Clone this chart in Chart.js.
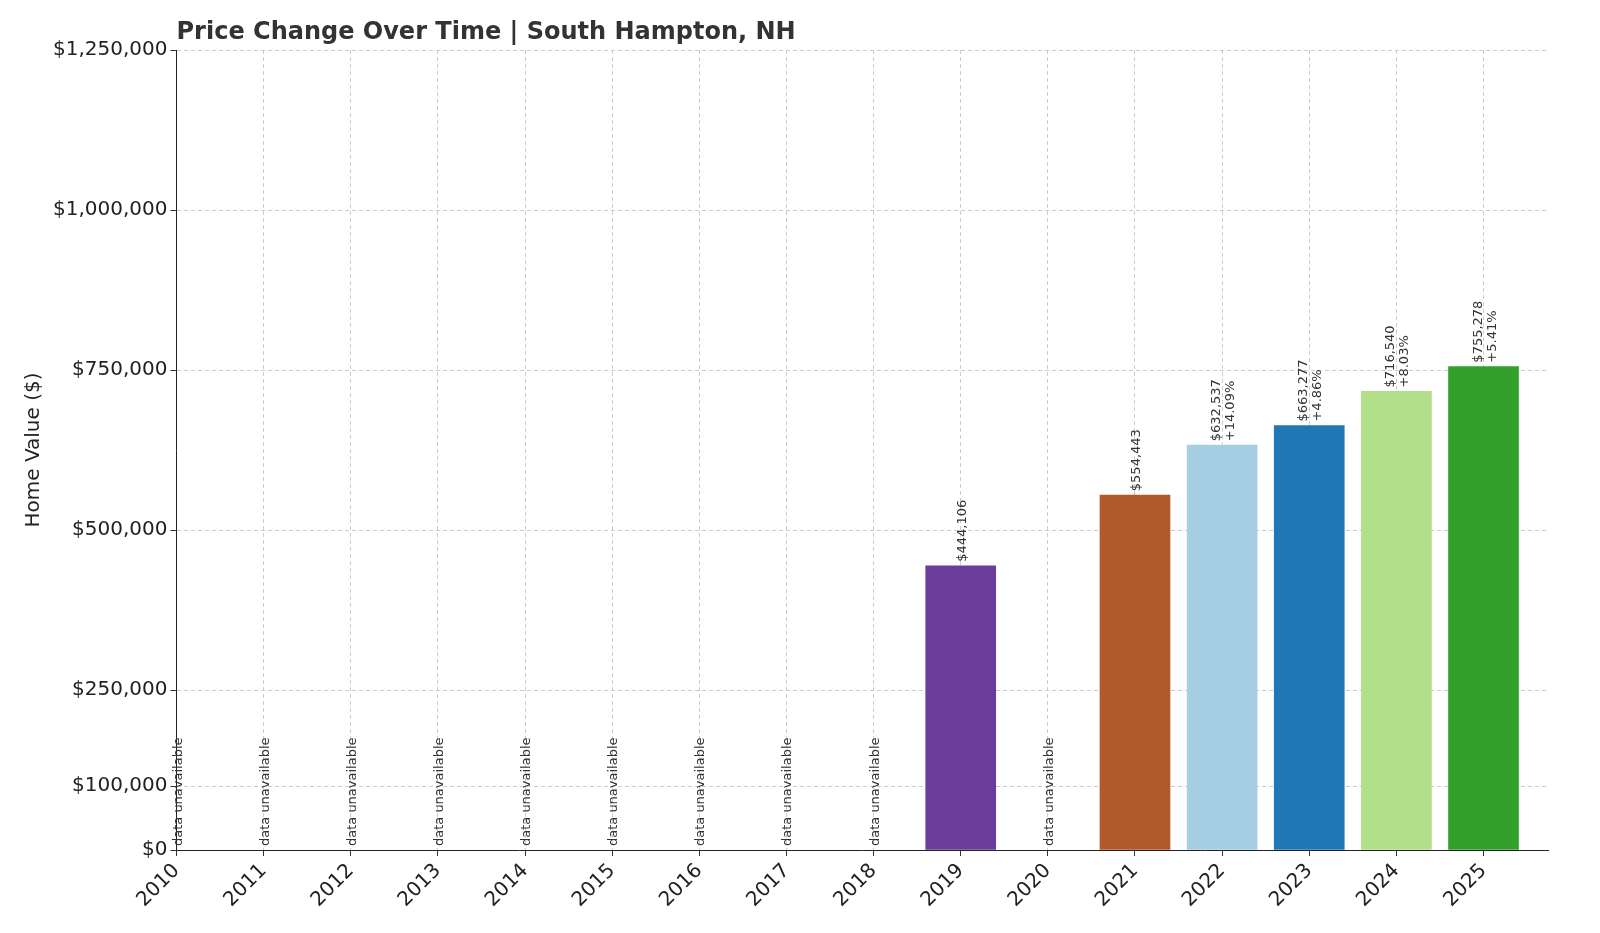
<!DOCTYPE html>
<html><head><meta charset="utf-8">
<script src="https://cdn.jsdelivr.net/npm/chart.js@4"></script>
<style>html,body{margin:0;background:#fff}#w{width:1600px;height:933px}</style>
</head><body><div id="w"><canvas id="c"></canvas></div>
<script>
const years=[2010,2011,2012,2013,2014,2015,2016,2017,2018,2019,2020,2021,2022,2023,2024,2025];
const values=[null,null,null,null,null,null,null,null,null,444106,null,554443,632537,663277,716540,755278];
const pctLabels=[null,null,null,null,null,null,null,null,null,null,null,null,"+14.09%","+4.86%","+8.03%","+5.41%"];
const barColors={2019:"#6a3d9a",2021:"#b15928",2022:"#a6cee3",2023:"#1f78b4",2024:"#b2df8a",2025:"#33a02c"};
const yTicks=[0,100000,250000,500000,750000,1000000,1250000];
const titleText="Price Change Over Time | South Hampton, NH";
const FONT="DejaVu Sans";
const fmt=v=>"$"+v.toLocaleString("en-US");
const labelPlugin={id:"lab",afterDatasetsDraw(ch){
  const c=ch.ctx,xs=ch.scales.x,ys=ch.scales.y;
  c.save();c.fillStyle="#333";c.font="bold 24px "+FONT;c.textAlign="left";c.textBaseline="alphabetic";
  c.fillText(titleText,ch.chartArea.left,39);
  c.font="13px "+FONT;
  years.forEach((yr,i)=>{
    const x=xs.getPixelForValue(yr);
    if(values[i]==null){
      c.save();c.translate(x+5,ys.getPixelForValue(0)-4);c.rotate(-Math.PI/2);
      c.textAlign="left";c.fillText("data unavailable",0,0);c.restore();
    }else{
      const y=ys.getPixelForValue(values[i])-4;
      c.save();c.translate(x,y);c.rotate(-Math.PI/2);c.textAlign="left";
      if(pctLabels[i]){c.fillText(fmt(values[i]),0,-2);c.fillText(pctLabels[i],0,12);}
      else c.fillText(fmt(values[i]),0,5);
      c.restore();
    }
  });
  c.restore();
}};
new Chart(document.getElementById("c"),{
  type:"bar",
  data:{datasets:[{data:years.map((y,i)=>({x:y,y:values[i]})),
    backgroundColor:years.map(y=>barColors[y]||"#999"),barThickness:70}]},
  options:{responsive:true,maintainAspectRatio:false,animation:false,
    layout:{padding:{top:50,right:52,left:18,bottom:18}},
    plugins:{legend:{display:false},tooltip:{enabled:false},title:{display:false}},
    scales:{
      x:{type:"linear",min:2010,max:2025.74,offset:false,
        afterBuildTicks:a=>{a.ticks=years.map(v=>({value:v}));},
        ticks:{autoSkip:false,maxRotation:45,minRotation:45,color:"#222",font:{family:FONT,size:20},callback:v=>String(v)},
        grid:{offset:false,color:"#ccc",tickLength:6,tickColor:"#333"},border:{color:"#222",dash:[4,3],display:true}},
      y:{min:0,max:1250000,
        afterBuildTicks:a=>{a.ticks=yTicks.map(v=>({value:v}));},
        ticks:{color:"#222",font:{family:FONT,size:20},callback:v=>fmt(v)},
        title:{display:true,text:"Home Value ($)",color:"#222",font:{family:FONT,size:20}},
        grid:{color:"#ccc",tickLength:6,tickColor:"#333"},border:{color:"#222",dash:[4,3]}}
    }},
  plugins:[labelPlugin]
});
</script></body></html>
